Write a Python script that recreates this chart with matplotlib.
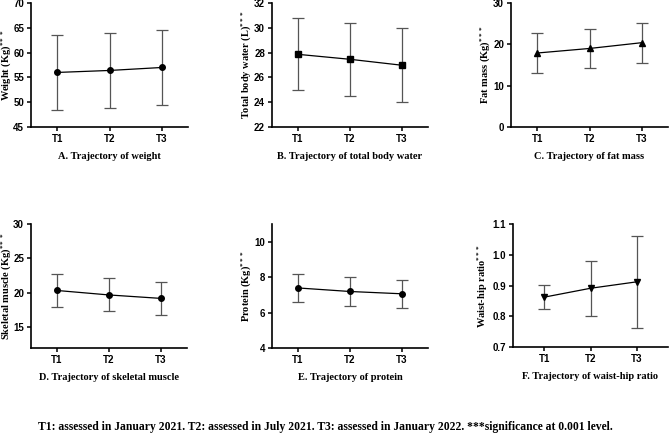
import numpy as np
import matplotlib.pyplot as plt

# -----------------------------
# DATA
# -----------------------------
times = ["T1", "T2", "T3"]

weight_mean = [56.0, 56.4, 57.0]
weight_err = [7.55, 7.55, 7.6]

water_mean = [27.86, 27.46, 26.98]
water_err = [2.9, 2.95, 3.0]

fat_mean = [17.9, 19.0, 20.4]
fat_err = [4.75, 4.8, 4.85]

muscle_mean = [20.35, 19.7, 19.2]
muscle_err = [2.37, 2.4, 2.45]

protein_mean = [7.39, 7.19, 7.06]
protein_err = [0.79, 0.8, 0.8]

whr_mean = [0.862, 0.891, 0.912]
whr_err = [0.04, 0.09, 0.15]

footnote = ("T1: assessed in January 2021. T2: assessed in July 2021. "
            "T3: assessed in January 2022. ***significance at 0.001 level.")

# -----------------------------
# LAYOUT (pixel boxes: left, right, top, bottom) + y-label x position
# -----------------------------
W, H = 669, 434
SERIF = "Liberation Serif"
SANS = "Liberation Sans"

plt.rcParams["mathtext.fontset"] = "custom"
plt.rcParams["mathtext.rm"] = "Liberation Serif:bold"
plt.rcParams["mathtext.it"] = "Liberation Serif:bold"
plt.rcParams["mathtext.bf"] = "Liberation Serif:bold"

panels = [
    dict(box=(31, 188, 3, 127), ylab_x=6, mean=weight_mean, err=weight_err, marker="o",
         ylim=(45, 70), yticks=[45, 50, 55, 60, 65, 70], xlim=(0.5, 3.5),
         ylabel="Weight (Kg)", xlabel="A. Trajectory of weight", fmt="{:.0f}"),
    dict(box=(272, 428, 3, 127), ylab_x=246, mean=water_mean, err=water_err, marker="s",
         ylim=(22, 32), yticks=[22, 24, 26, 28, 30, 32], xlim=(0.5, 3.5),
         ylabel="Total body water (L)", xlabel="B. Trajectory of total body water", fmt="{:.0f}"),
    dict(box=(511, 668, 3, 127), ylab_x=485, mean=fat_mean, err=fat_err, marker="^",
         ylim=(0, 30), yticks=[0, 10, 20, 30], xlim=(0.5, 3.5),
         ylabel="Fat mass (Kg)", xlabel="C. Trajectory of fat mass", fmt="{:.0f}"),
    dict(box=(31, 187, 224, 348), ylab_x=6, mean=muscle_mean, err=muscle_err, marker="o",
         ylim=(12, 30), yticks=[15, 20, 25, 30], xlim=(0.5, 3.5),
         ylabel="Skeletal muscle (Kg)", xlabel="D. Trajectory of skeletal muscle", fmt="{:.0f}"),
    dict(box=(272, 428, 224, 348), ylab_x=246, mean=protein_mean, err=protein_err, marker="o",
         ylim=(4, 11), yticks=[4, 6, 8, 10], xlim=(0.5, 3.5),
         ylabel="Protein (Kg)", xlabel="E. Trajectory of protein", fmt="{:.0f}"),
    dict(box=(513, 668, 224, 347), ylab_x=483, mean=whr_mean, err=whr_err, marker="v",
         ylim=(0.7, 1.1), yticks=[0.7, 0.8, 0.9, 1.0, 1.1], xlim=(0.33, 3.67),
         ylabel="Waist-hip ratio", xlabel="F. Trajectory of waist-hip ratio", fmt="{:.1f}"),
]

fig = plt.figure(figsize=(W / 100, H / 100), dpi=100)

x = np.arange(1, len(times) + 1)
for p in panels:
    l, r, t, b = p["box"]
    ax = fig.add_axes([l / W, 1 - b / H, (r - l) / W, (b - t) / H])

    ax.errorbar(x, p["mean"], yerr=p["err"], fmt="none", ecolor="#555555",
                elinewidth=0.9, capsize=4, capthick=0.9, zorder=2)
    ax.plot(x, p["mean"], color="black", lw=0.9, marker=p["marker"],
            markersize=4, markerfacecolor="black", zorder=3)

    ax.set_xlim(*p["xlim"])
    ax.set_ylim(*p["ylim"])
    ax.set_xticks(x)
    ax.set_xticklabels(times, fontsize=7, fontweight="bold", family=SANS)
    ax.set_yticks(p["yticks"])
    ax.set_yticklabels([p["fmt"].format(v) for v in p["yticks"]],
                       fontsize=7, fontweight="bold", family=SANS)

    for side in ("top", "right"):
        ax.spines[side].set_visible(False)
    for side in ("left", "bottom"):
        ax.spines[side].set_linewidth(1.2)
    ax.tick_params(direction="out", length=3, width=1.1, pad=2)

    ax.set_ylabel(p["ylabel"] + r"$^{***}$", fontsize=7.5, fontweight="bold",
                  family=SERIF, va="center")
    ax.yaxis.set_label_coords((p["ylab_x"] - l) / (r - l), 0.5)
    ax.set_xlabel(p["xlabel"], fontsize=7.5, fontweight="bold", family=SERIF,
                  labelpad=6)

fig.text(325 / W, 1 - 427 / H, footnote, ha="center", va="center",
         fontsize=8.4, fontweight="bold", family=SERIF)

fig.savefig("out.png", dpi=100)
